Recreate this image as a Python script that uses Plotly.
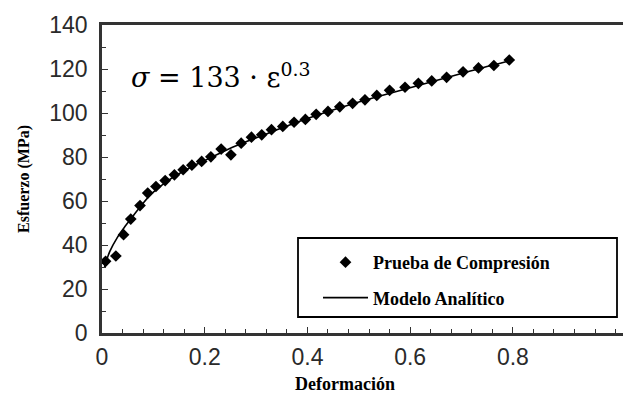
import plotly.graph_objects as go

# Experimental data (Prueba de Compresión)
strain_exp = [0.007, 0.027, 0.042, 0.056, 0.074, 0.089, 0.105, 0.123, 0.141, 0.158,
              0.175, 0.194, 0.212, 0.232, 0.251, 0.271, 0.291, 0.311, 0.330, 0.352,
              0.374, 0.396, 0.417, 0.440, 0.463, 0.488, 0.512, 0.535, 0.560, 0.590,
              0.616, 0.642, 0.671, 0.703, 0.733, 0.763, 0.793]
stress_exp = [32.6, 35.0, 44.7, 51.8, 57.9, 63.6, 66.6, 69.3, 71.9, 74.2,
              76.3, 78.0, 80.1, 83.6, 81.0, 86.3, 89.0, 90.1, 92.4, 93.9,
              95.8, 97.1, 99.4, 100.7, 102.8, 104.4, 106.0, 108.0, 110.3, 111.7,
              113.5, 114.6, 116.2, 118.7, 120.5, 121.6, 124.1]

# Analytical model curve (Modelo Analítico)
strain_model = [0.005, 0.015, 0.03, 0.045, 0.06, 0.08, 0.10, 0.13, 0.17, 0.21,
                0.26, 0.32, 0.40, 0.50, 0.60, 0.70, 0.79]
stress_model = [30.0, 37.0, 43.5, 48.5, 53.0, 59.0, 64.0, 69.5, 75.0, 79.5,
                85.0, 90.5, 97.5, 105.0, 111.5, 118.0, 123.5]

x_ticks = [0, 0.2, 0.4, 0.6, 0.8]
x_tick_labels = ["0", "0.2", "0.4", "0.6", "0.8"]
y_ticks = [0, 20, 40, 60, 80, 100, 120, 140]

serif = "Liberation Serif, Times New Roman, serif"
math_serif = "DejaVu Serif, serif"
sans = "Liberation Sans, Arial, sans-serif"

# plot area in page pixels (page has an 8px body margin)
PX0, PX1, PY0, PY1 = 102, 631, 25, 333


def px(x):
    return (x - PX0) / (PX1 - PX0)


def py(y):
    return (PY1 - y) / (PY1 - PY0)


fig = go.Figure()
fig.add_trace(go.Scatter(
    x=strain_exp, y=stress_exp, mode="markers",
    name="<b>Prueba de Compresión</b>", legendgroup="a",
    marker=dict(symbol="diamond", size=9, color="black"),
))
fig.add_trace(go.Scatter(
    x=strain_model, y=stress_model, mode="lines", line_shape="spline",
    name="<b>Modelo Analítico</b>", legendgroup="b",
    line=dict(color="black", width=1.6),
))

axis_common = dict(
    showgrid=False, zeroline=False, showline=True, linecolor="#333333",
    linewidth=2.5, ticks="inside", ticklen=6, tickwidth=1.2, tickcolor="#333333",
    tickfont=dict(family=sans, size=23, color="#2a2a2a"),
)

fig.update_xaxes(
    range=[0, 1.03], tickvals=x_ticks, ticktext=x_tick_labels, mirror=True,
    ticklabelstandoff=2,
    minor=dict(dtick=0.04, ticks="inside", ticklen=4, tickwidth=1, tickcolor="#333333"),
    **axis_common,
)
fig.update_yaxes(
    range=[0, 140], tickvals=y_ticks, ticklabelstandoff=7,
    minor=dict(dtick=10, ticks="inside", ticklen=4, tickwidth=1, tickcolor="#333333"),
    title=dict(text="<b>Esfuerzo (MPa)</b>", font=dict(family=serif, size=16, color="black"), standoff=16),
    **axis_common,
)

fig.add_annotation(
    x=px(345), y=py(384), xref="paper", yref="paper",
    text="<b>Deformación</b>", showarrow=False,
    font=dict(family=serif, size=18, color="black"), xanchor="center", yanchor="middle",
)

fig.add_annotation(
    x=px(129), y=py(75), xref="paper", yref="paper",
    text="<i>σ</i> = 133 · ε<sup>0.3</sup>", showarrow=False,
    font=dict(family=math_serif, size=27, color="black"), xanchor="left", yanchor="middle",
)

# legend frame
fig.add_shape(
    type="rect", xref="paper", yref="paper",
    x0=px(298), x1=px(617), y0=py(317), y1=py(238),
    line=dict(color="black", width=1.8), fillcolor="white", layer="below",
)

fig.update_layout(
    width=623, height=387,
    margin=dict(l=PX0 - 8, r=0, t=PY0 - 8, b=387 - (PY1 - 8)),
    paper_bgcolor="white", plot_bgcolor="white",
    showlegend=True,
    legend=dict(
        x=px(318), y=py(244), xanchor="left", yanchor="top",
        bgcolor="rgba(0,0,0,0)", borderwidth=0, tracegroupgap=9,
        font=dict(family=serif, size=18, color="black"), itemwidth=45,
    ),
)

fig.write_html("out.html")
